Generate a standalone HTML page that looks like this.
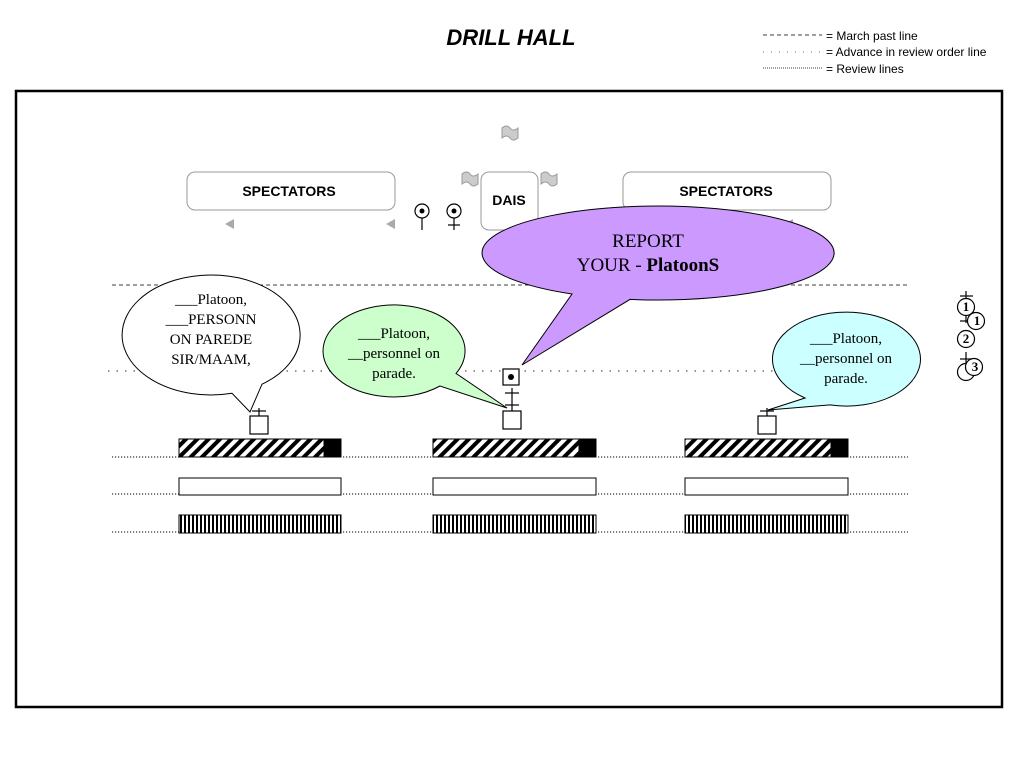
<!DOCTYPE html>
<html><head><style>body{margin:0;background:#fff}svg{display:block}</style></head><body>
<svg width="1024" height="768" xmlns="http://www.w3.org/2000/svg" font-family="Liberation Sans, sans-serif">
<defs>
<pattern id="h" width="8" height="8" patternUnits="userSpaceOnUse" patternTransform="rotate(45)"><rect width="8" height="8" fill="#fff"/><rect width="4" height="8" fill="#000"/></pattern>
<pattern id="v" width="4" height="10" patternUnits="userSpaceOnUse"><rect width="4" height="10" fill="#fff"/><rect width="2" height="10" fill="#000"/></pattern>
</defs>
<text x="511" y="45" font-size="22" font-weight="bold" font-style="italic" text-anchor="middle">DRILL HALL</text>
<g font-size="12">
<line x1="763" y1="35" x2="822" y2="35" stroke="#000" stroke-dasharray="4,3" stroke-width="0.8"/>
<text x="826" y="40">= March past line</text>
<line x1="763" y1="52" x2="822" y2="52" stroke="#666" stroke-dasharray="1,7" stroke-width="1"/>
<text x="826" y="56">= Advance in review order line</text>
<line x1="763" y1="68" x2="822" y2="68" stroke="#000" stroke-dasharray="1,1" stroke-width="0.8"/>
<text x="826" y="73">= Review lines</text>
</g>
<rect x="16" y="91" width="986" height="616" fill="none" stroke="#000" stroke-width="2.5"/>
<g fill="#ccc" stroke="#999" stroke-width="1">
<path d="M502,128 q5,-4 8,0 q3,4 8,0 v10 q-5,4 -8,0 q-3,-4 -8,0z"/>
<path d="M462,174 q5,-4 8,0 q3,4 8,0 v10 q-5,4 -8,0 q-3,-4 -8,0z"/>
<path d="M541,174 q5,-4 8,0 q3,4 8,0 v10 q-5,4 -8,0 q-3,-4 -8,0z"/>
</g>
<rect x="187" y="172" width="208" height="38" rx="8" fill="#fff" stroke="#999"/>
<text x="289" y="196" font-size="14" font-weight="bold" text-anchor="middle">SPECTATORS</text>
<rect x="623" y="172" width="208" height="38" rx="8" fill="#fff" stroke="#999"/>
<text x="726" y="196" font-size="14" font-weight="bold" text-anchor="middle">SPECTATORS</text>
<rect x="481" y="172" width="57" height="58" rx="8" fill="#fff" stroke="#999"/>
<text x="509" y="205" font-size="14" font-weight="bold" text-anchor="middle">DAIS</text>
<g fill="#aaa"><path d="M225,224 l9,-5 v10z"/><path d="M386,224 l9,-5 v10z"/><path d="M784,224 l9,-5 v10z"/></g>
<g stroke="#000" fill="none" stroke-width="1.2">
<circle cx="422" cy="211" r="7"/><line x1="422" y1="218" x2="422" y2="230"/>
<circle cx="454" cy="211" r="7"/><line x1="454" y1="218" x2="454" y2="230"/><line x1="448" y1="225" x2="460" y2="225"/>
</g>
<circle cx="422" cy="211" r="2.5"/><circle cx="454" cy="211" r="2.5"/>
<line x1="112" y1="285" x2="908" y2="285" stroke="#000" stroke-dasharray="4,3" stroke-width="0.8"/>
<line x1="108" y1="371" x2="908" y2="371" stroke="#555" stroke-dasharray="1.5,7" stroke-width="1.2"/>
<g stroke="#000" stroke-dasharray="1.2,1.8" stroke-width="1">
<line x1="112" y1="457" x2="908" y2="457"/><line x1="112" y1="494" x2="908" y2="494"/><line x1="112" y1="532" x2="908" y2="532"/>
</g>
<path d="M232,393.3 A89,60 0 1 1 262,384.2 L250,412 Z" fill="#fff" stroke="#000"/>
<path d="M440,386 A71,46 0 1 1 456,373.4 L507,408 Z" fill="#ccffcc" stroke="#000"/>
<path d="M572,294 A176,47 0 1 1 630,299.4 L522,365 Z" fill="#cc99ff" stroke="#000"/>
<path d="M805,398 A74,47 0 1 1 830,404.9 L768,410 Z" fill="#ccffff" stroke="#000"/>
<g font-family="Liberation Serif, serif" font-size="15" text-anchor="middle">
<text x="211" y="304">___Platoon,</text><text x="211" y="324">___PERSONN</text><text x="211" y="344">ON PAREDE</text><text x="211" y="364">SIR/MAAM,</text>
<text x="394" y="338">___Platoon,</text><text x="394" y="358">__personnel on</text><text x="394" y="378">parade.</text>
<text x="846" y="343">___Platoon,</text><text x="846" y="363">__personnel on</text><text x="846" y="383">parade.</text>
<text x="648" y="247" font-size="19">REPORT</text><text x="648" y="271" font-size="19">YOUR - <tspan font-weight="bold">PlatoonS</tspan></text>
</g>
<g stroke="#000" fill="#fff" stroke-width="1.2">
<rect x="250" y="416" width="18" height="18"/><line x1="259" y1="416" x2="259" y2="408" fill="none"/><line x1="252" y1="411" x2="266" y2="411"/>
<rect x="503" y="411" width="18" height="18"/><line x1="512" y1="388" x2="512" y2="411"/><line x1="505" y1="393" x2="519" y2="393"/><line x1="505" y1="405" x2="519" y2="405"/>
<rect x="503" y="369" width="16" height="16"/>
<rect x="758" y="416" width="18" height="18"/><line x1="767" y1="416" x2="767" y2="408"/><line x1="760" y1="411" x2="774" y2="411"/>
</g>
<circle cx="511" cy="377" r="3"/>
<g stroke="#000" fill="#fff" stroke-width="1.2">
<line x1="966" y1="291" x2="966" y2="323"/><line x1="960" y1="296" x2="973" y2="296"/><line x1="960" y1="321" x2="973" y2="321"/>
<circle cx="966" cy="307" r="8.5"/>
<circle cx="976" cy="321" r="8.5"/>
<circle cx="966" cy="339" r="8.5"/>
<line x1="966" y1="352" x2="966" y2="370"/><line x1="960" y1="359" x2="973" y2="359"/>
<circle cx="966" cy="372" r="8.5"/><circle cx="974" cy="367" r="8.5"/>
</g>
<g font-family="Liberation Serif, serif" font-size="13" font-weight="bold" text-anchor="middle">
<text x="966" y="311">1</text><text x="977" y="325">1</text><text x="966" y="343">2</text><text x="975" y="371">3</text>
</g>
<g stroke="#000" stroke-width="1">
<rect x="179" y="439" width="162" height="18" fill="url(#h)"/><rect x="324" y="439" width="17" height="18" fill="#000"/>
<rect x="433" y="439" width="163" height="18" fill="url(#h)"/><rect x="579" y="439" width="17" height="18" fill="#000"/>
<rect x="685" y="439" width="163" height="18" fill="url(#h)"/><rect x="831" y="439" width="17" height="18" fill="#000"/>
<rect x="179" y="478" width="162" height="17" fill="#fff"/>
<rect x="433" y="478" width="163" height="17" fill="#fff"/>
<rect x="685" y="478" width="163" height="17" fill="#fff"/>
<rect x="179" y="515" width="162" height="18" fill="url(#v)"/>
<rect x="433" y="515" width="163" height="18" fill="url(#v)"/>
<rect x="685" y="515" width="163" height="18" fill="url(#v)"/>
</g>
</svg>
</body></html>
